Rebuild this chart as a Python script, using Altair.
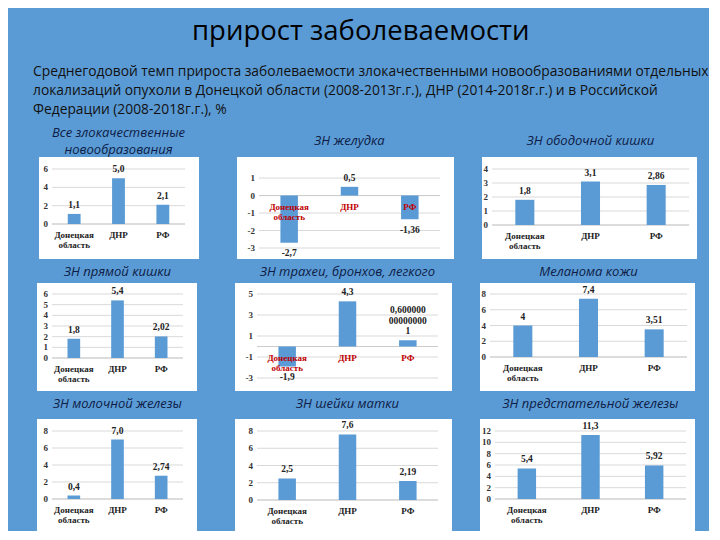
import altair as alt
import pandas as pd

# ---------------- data ----------------
CATS = ["Донецкая область", "ДНР", "РФ"]

MAIN_TITLE = "прирост заболеваемости"
SUBTITLE = [
    "Среднегодовой темп прироста заболеваемости злокачественными новообразованиями отдельных",
    "локализаций опухоли в Донецкой области (2008-2013г.г.), ДНР (2014-2018г.г.) и в Российской",
    "Федерации (2008-2018г.г.), %",
]

PANEL_TITLES = [
    ["Все злокачественные", "новообразования"],
    "ЗН желудка",
    "ЗН ободочной кишки",
    "ЗН прямой кишки",
    "ЗН трахеи, бронхов, легкого",
    "Меланома кожи",
    "ЗН молочной железы",
    "ЗН шейки матки",
    "ЗН предстательной железы",
]

VAL_ALL = [1.1, 5.0, 2.1]
VAL_STOMACH = [-2.7, 0.5, -1.36]
VAL_COLON = [1.8, 3.1, 2.86]
VAL_RECTUM = [1.8, 5.4, 2.02]
VAL_LUNG = [-1.9, 4.3, 0.6000000000000001]
VAL_MELANOMA = [4.0, 7.4, 3.51]
VAL_BREAST = [0.4, 7.0, 2.74]
VAL_CERVIX = [2.5, 7.6, 2.19]
VAL_PROSTATE = [5.4, 11.3, 5.92]

LAB_ALL = ["1,1", "5,0", "2,1"]
LAB_STOMACH = ["-2,7", "0,5", "-1,36"]
LAB_COLON = ["1,8", "3,1", "2,86"]
LAB_RECTUM = ["1,8", "5,4", "2,02"]
LAB_LUNG = ["-1,9", "4,3", "0,600000\n00000000\n1"]
LAB_MELANOMA = ["4", "7,4", "3,51"]
LAB_BREAST = ["0,4", "7,0", "2,74"]
LAB_CERVIX = ["2,5", "7,6", "2,19"]
LAB_PROSTATE = ["5,4", "11,3", "5,92"]

Y_DOMAINS = [[0, 6], [-3, 1.52], [0, 4], [0, 6], [-3, 5], [0, 8], [0, 8], [0, 8], [0, 12]]
Y_TICKS = [
    [0, 2, 4, 6],
    [-3, -2, -1, 0, 1],
    [0, 1, 2, 3, 4],
    [0, 1, 2, 3, 4, 5, 6],
    [-3, -1, 1, 3, 5],
    [0, 2, 4, 6, 8],
    [0, 2, 4, 6, 8],
    [0, 2, 4, 6, 8],
    [0, 2, 4, 6, 8, 10, 12],
]

VALUES = [VAL_ALL, VAL_STOMACH, VAL_COLON, VAL_RECTUM, VAL_LUNG,
          VAL_MELANOMA, VAL_BREAST, VAL_CERVIX, VAL_PROSTATE]
LABELS = [LAB_ALL, LAB_STOMACH, LAB_COLON, LAB_RECTUM, LAB_LUNG,
          LAB_MELANOMA, LAB_BREAST, LAB_CERVIX, LAB_PROSTATE]

# ---------------- style ----------------
BG = "#5B9BD5"
BAR = "#5B9BD5"
GRID = "#d9d9d9"
TITLE_COL = "#0d1b45"
SERIF = "Liberation Serif"
SANS = "Open Sans"
LINE_H = 10.5

# width, height, pads (left, right, top, bottom), red category labels, title offset
LAYOUT = [
    (133, 55, (13, 14, 12, 35), False, 0.5),
    (181, 79, (22, 14, 12, 11), True, 9.5),
    (197, 56, (10, 8, 12, 34), False, 9.5),
    (131, 64, (15, 14, 11, 33), False, 4),
    (181, 84, (22, 14, 11, 13), True, 4),
    (197, 63, (10, 8, 11, 34), False, 4),
    (131, 68, (15, 14, 12, 32), False, 8),
    (181, 69, (22, 14, 12, 31), False, 8),
    (191, 68, (15, 9, 12, 32), False, 8),
]


def panel(i):
    W, H, (l, r, t, b), red, toff = LAYOUT[i]
    labs = LABELS[i]
    nls = [s.count("\n") for s in labs]
    df = pd.DataFrame({"cat": CATS, "v": VALUES[i], "lab": labs, "nl": nls})
    ticks = pd.DataFrame({"t": Y_TICKS[i], "s": [str(v) for v in Y_TICKS[i]]})
    base = alt.Chart(df)
    xenc = alt.X("cat:N", sort=CATS, axis=None,
                 scale=alt.Scale(paddingInner=0.71, paddingOuter=0.355))
    yscale = alt.Scale(domain=Y_DOMAINS[i], nice=False, zero=False)
    y_plain = alt.Y("v:Q", scale=yscale, axis=None)

    bg = alt.Chart(pd.DataFrame({"k": [0]})).mark_rect(color="white").encode(
        x=alt.value(-l), x2=alt.value(W + r), y=alt.value(-t), y2=alt.value(H + b)
    )
    grid = alt.Chart(ticks).mark_rule(color=GRID, strokeWidth=1).encode(
        y=alt.Y("t:Q", scale=yscale, axis=None)
    )
    zero = alt.Chart(pd.DataFrame({"z": [0]})).mark_rule(
        color="#cccccc", strokeWidth=1
    ).encode(y=alt.Y("z:Q", scale=yscale, axis=None))
    ticklab = alt.Chart(ticks).mark_text(
        align="right", baseline="middle", dx=-4, font=SERIF, fontSize=9,
        fontWeight="bold", color="#333333",
    ).encode(x=alt.value(0), y=alt.Y("t:Q", scale=yscale, axis=None), text="s:N")
    bars = base.mark_bar(color=BAR).encode(x=xenc, y=y_plain)

    txt_style = dict(font=SERIF, fontSize=9.5, fontWeight="bold", color="#222222",
                     lineBreak="\n", lineHeight=LINE_H)
    layers = [bg, grid, zero, ticklab, bars]
    layers.append(
        base.transform_filter("datum.v >= 0 && datum.nl == 0").mark_text(
            baseline="bottom", dy=-4, **txt_style
        ).encode(x=xenc, y=y_plain, text="lab:N")
    )
    if max(nls) > 0:
        layers.append(
            base.transform_filter("datum.v >= 0 && datum.nl > 0").mark_text(
                baseline="bottom", dy=-4 - max(nls) * LINE_H, **txt_style
            ).encode(x=xenc, y=y_plain, text="lab:N")
        )
    layers.append(
        base.transform_filter("datum.v < 0").mark_text(
            baseline="top", dy=5.5, **txt_style
        ).encode(x=xenc, y=y_plain, text="lab:N")
    )
    layers.append(
        base.mark_text(
            baseline="top", dy=7, font=SERIF, fontSize=9, fontWeight="bold",
            color="#c00000" if red else "#222222", lineBreak=" ", lineHeight=10,
        ).encode(x=xenc, y=alt.YDatum(0, axis=None), text="cat:N")
    )

    return alt.layer(*layers).properties(
        width=W, height=H,
        title=alt.TitleParams(
            text=PANEL_TITLES[i], fontSize=13, font=SANS, fontStyle="italic",
            fontWeight="normal", color=TITLE_COL, offset=toff, lineHeight=16.5,
            anchor="middle",
        ),
    )


P = [panel(i) for i in range(9)]

rows = []
for k in range(3):
    rows.append(
        alt.hconcat(P[3 * k], alt.hconcat(P[3 * k + 1], P[3 * k + 2], spacing=28), spacing=38)
    )

inner = alt.vconcat(*rows, spacing=7).properties(
    title=alt.TitleParams(
        text=SUBTITLE, anchor="start", fontSize=13.8, font=SANS, fontWeight="normal",
        color="#111111", lineHeight=19, offset=10, dx=-4,
    )
)

chart = alt.vconcat(inner).properties(
    title=alt.TitleParams(
        text=MAIN_TITLE, anchor="middle", fontSize=27.5, font=SANS, fontWeight="normal",
        color="#000000", offset=20, dx=-10,
    ),
    padding={"left": 25, "top": 9, "right": 0, "bottom": 0},
).configure(background=BG).configure_view(stroke=None)

chart.save("out.html", embed_options={"renderer": "svg", "actions": False})
